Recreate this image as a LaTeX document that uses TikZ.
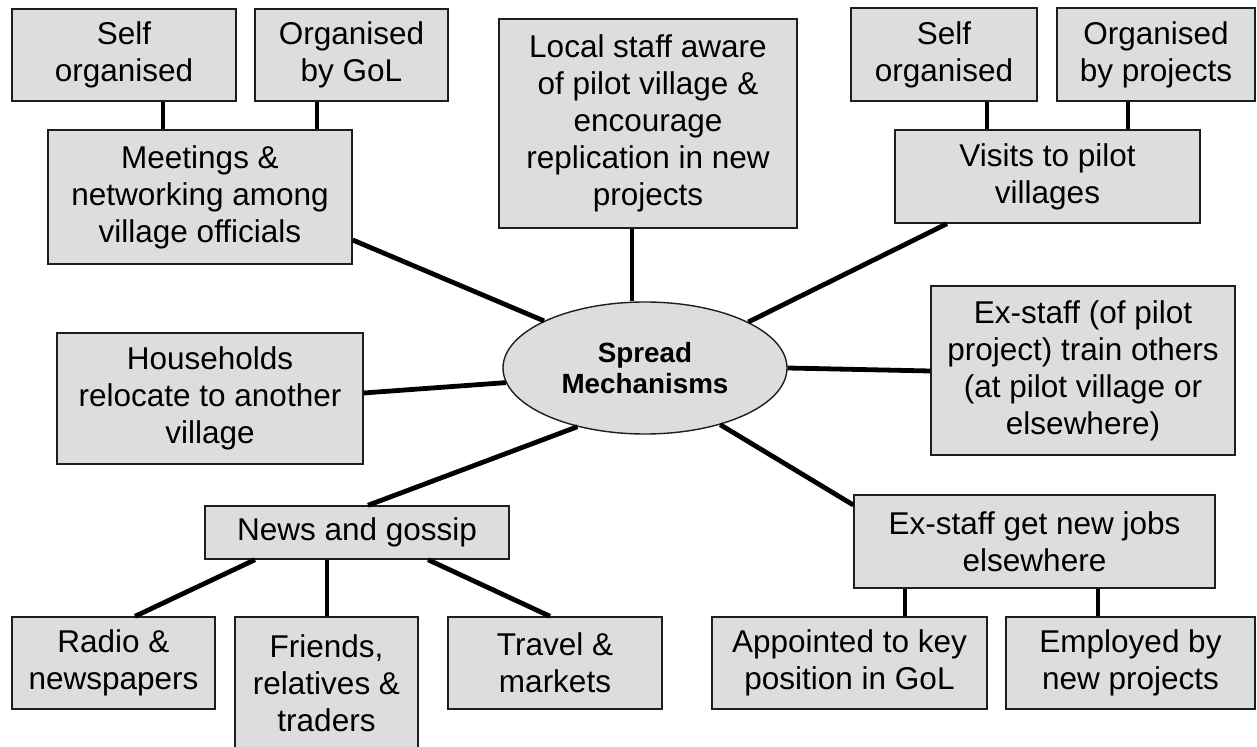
\documentclass[tikz,border=0pt]{standalone}
\usepackage{fontspec}
\setmainfont{Liberation Sans}
\usetikzlibrary{shapes.geometric}
\definecolor{boxgrey}{RGB}{221,221,221}
\definecolor{edgegrey}{RGB}{30,30,30}
\begin{document}
\begin{tikzpicture}[x=0.5pt,y=-0.5pt,
  boxst/.style={draw=edgegrey, line width=0.7pt, fill=boxgrey, rectangle,
    inner sep=0pt, align=center,
    font=\fontsize{15.75pt}{18.5pt}\selectfont},
  hub/.style={draw=edgegrey, line width=0.7pt, fill=boxgrey, ellipse,
    inner sep=0pt, align=center,
    font=\fontsize{13.9pt}{15.5pt}\selectfont\bfseries},
  link/.style={line width=2.4pt, black}]
\path[use as bounding box, clip] (0,0) rectangle (1257,747);

% top-left cluster
\node[boxst, minimum width=112pt,   minimum height=46pt] (selfL) at (124,55) {Self\\organised};
\node[boxst, minimum width=96.5pt,  minimum height=46pt] (gol) at (351.5,55) {Organised\\by GoL};
\node[boxst, minimum width=152pt,   minimum height=67pt] (meet) at (200,197) {Meetings \&\\networking among\\village officials};

% top-centre
\node[boxst, minimum width=149pt, minimum height=104.5pt] (local) at (648,123.5)
  {Local staff aware\\of pilot village \&\\encourage\\replication in new\\projects};

% top-right cluster
\node[boxst, minimum width=93pt,    minimum height=46.5pt] (selfR) at (944,54.5) {Self\\organised};
\node[boxst, minimum width=99pt,    minimum height=46.5pt] (proj) at (1156,54.5) {Organised\\by projects};
\node[boxst, minimum width=152.5pt, minimum height=46.5pt] (visit) at (1047.5,176.5) {Visits to pilot\\villages};

% centre
\node[hub, minimum width=142pt, minimum height=66pt] (hubnode) at (645,368) {Spread\\Mechanisms};

% middle row
\node[boxst, minimum width=153pt, minimum height=65.5pt] (house) at (210,398.5) {Households\\relocate to another\\village};
\node[boxst, minimum width=152pt, minimum height=84.5pt] (train) at (1083,370.5)
  {Ex-staff (of pilot\\project) train others\\(at pilot village or\\elsewhere)};

% lower row
\node[boxst, minimum width=152pt,   minimum height=26.5pt] (news) at (357,532.5) {News and gossip};
\node[boxst, minimum width=180.5pt, minimum height=46.5pt] (jobs) at (1034.5,541.5) {Ex-staff get new jobs\\elsewhere};

% bottom row
\node[boxst, minimum width=101.5pt, minimum height=46pt]   (radio) at (113.5,663) {Radio \&\\newspapers};
\node[boxst, minimum width=91.5pt,  minimum height=66.5pt] (friends) at (326.5,683.5) {Friends,\\relatives \&\\traders};
\node[boxst, minimum width=107pt,   minimum height=46pt]   (travel) at (555,663) {Travel \&\\markets};
\node[boxst, minimum width=137.5pt, minimum height=46pt]   (appoint) at (849.5,663) {Appointed to key\\position in GoL};
\node[boxst, minimum width=124.5pt, minimum height=46pt]   (employ) at (1130.5,663) {Employed by\\new projects};

% connectors into the hub
\draw[link] (meet.east |- 0,240) -- (hubnode.155.7);
\draw[link] (local.south -| 632,0) -- (hubnode.north -| 632,0);
\draw[link] (visit.south -| 947,0) -- (hubnode.24.7);
\draw[link] (house.east |- 0,393) -- (hubnode.186.2);
\draw[link] (hubnode.east) -- (train.west |- 0,371);
\draw[link] (news.north -| 368,0) -- (hubnode.221.2);
\draw[link] (jobs.west |- 0,505) -- (hubnode.323.8);

% sub-branches
\draw[link] (selfL.south -| 163,0) -- (meet.north -| 163,0);
\draw[link] (gol.south -| 317,0) -- (meet.north -| 317,0);
\draw[link] (selfR.south -| 987,0) -- (visit.north -| 987,0);
\draw[link] (proj.south -| 1128,0) -- (visit.north -| 1128,0);
\draw[link] (news.south -| 255,0) -- (radio.north -| 135,0);
\draw[link] (news.south -| 327,0) -- (friends.north -| 327,0);
\draw[link] (news.south -| 428,0) -- (travel.north -| 550,0);
\draw[link] (jobs.south -| 905,0) -- (appoint.north -| 905,0);
\draw[link] (jobs.south -| 1098,0) -- (employ.north -| 1098,0);
\end{tikzpicture}
\end{document}
